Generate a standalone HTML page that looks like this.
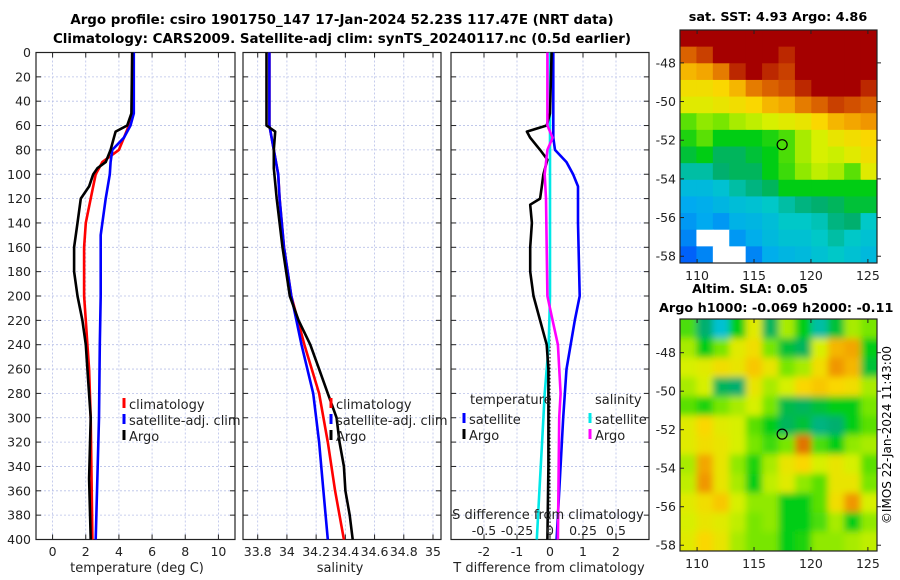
<!DOCTYPE html>
<html><head><meta charset="utf-8"><style>
html,body{margin:0;padding:0;background:#fff;}
svg{display:block;font-family:"DejaVu Sans","Liberation Sans",sans-serif;}
</style></head><body>
<svg id="fig" width="900" height="580" viewBox="0 0 900 580">
<text x="342" y="24" font-size="13.4" font-weight="bold" text-anchor="middle">Argo profile: csiro 1901750_147 17-Jan-2024 52.23S 117.47E (NRT data)</text>
<text x="342" y="43" font-size="13.4" font-weight="bold" text-anchor="middle">Climatology: CARS2009. Satellite-adj clim: synTS_20240117.nc (0.5d earlier)</text>
<text x="778" y="21" font-size="12.8" font-weight="bold" text-anchor="middle">sat. SST: 4.93 Argo: 4.86</text>
<text x="750" y="293" font-size="12.8" font-weight="bold" text-anchor="middle">Altim. SLA: 0.05</text>
<text x="659" y="312" font-size="12.8" font-weight="bold">Argo h1000: -0.069 h2000: -0.11</text>
<text transform="translate(891,435) rotate(-90)" font-size="12" text-anchor="middle">©IMOS 22-Jan-2024 11:43:00</text>
</svg>
<script>
// ---------- data ----------
const depthTicks=[0,20,40,60,80,100,120,140,160,180,200,220,240,260,280,300,320,340,360,380,400];
const tempTicks=[0,2,4,6,8,10];
const salTicks=[33.8,34,34.2,34.4,34.6,34.8,35];
const salTickLabels=["33.8","34","34.2","34.4","34.6","34.8","35"];
const dTTicks=[-2,-1,0,1,2];
const dSTicks=[-0.5,-0.25,0,0.25,0.5];
const dSTickLabels=["-0.5","-0.25","0","0.25","0.5"];

const tClimDepth=[0,50,60,70,80,90,100,110,120,140,160,180,200,220,240,260,300,400];
const tClimVal=[4.8,4.8,4.6,4.3,4.0,3.0,2.6,2.45,2.3,2.0,1.9,1.9,1.9,2.0,2.1,2.2,2.3,2.4];
const tSatDepth=[0,50,60,70,80,90,100,120,150,200,240,300,400];
const tSatVal=[4.9,4.9,4.7,4.3,3.6,3.5,3.45,3.2,2.9,2.9,2.85,2.8,2.6];
const tArgoDepth=[0,50,60,65,70,80,90,95,100,110,120,140,160,180,200,220,240,260,300,350,400];
const tArgoVal=[4.8,4.75,4.5,3.8,3.7,3.5,3.2,2.7,2.45,2.2,1.7,1.5,1.3,1.3,1.5,1.8,2.0,2.1,2.3,2.2,2.3];

const sClimDepth=[0,60,80,100,120,160,200,240,280,320,360,400];
const sClimVal=[33.88,33.88,33.91,33.94,33.95,33.98,34.03,34.12,34.22,34.28,34.33,34.39];
const sSatDepth=[0,60,80,100,120,160,200,240,280,320,360,400];
const sSatVal=[33.88,33.88,33.91,33.94,33.95,33.98,34.03,34.10,34.18,34.22,34.25,34.28];
const sArgoDepth=[0,60,65,80,95,120,160,200,220,240,260,280,300,320,340,360,380,400];
const sArgoVal=[33.86,33.86,33.92,33.91,33.91,33.93,33.97,34.02,34.08,34.16,34.22,34.28,34.34,34.36,34.39,34.40,34.43,34.45];

const dTSatDepth=[0,70,80,90,100,110,140,200,220,260,300,400];
const dTSatVal=[0.1,0.1,0.15,0.5,0.7,0.85,0.85,0.9,0.75,0.5,0.4,0.2];
const dTArgoDepth=[0,50,60,65,70,80,88,100,110,120,125,140,160,180,200,220,240,260,300,340,400];
const dTArgoVal=[0.05,0.0,-0.1,-0.7,-0.6,-0.3,-0.08,-0.2,-0.25,-0.3,-0.6,-0.55,-0.6,-0.6,-0.5,-0.3,-0.1,-0.05,-0.05,-0.05,-0.08];
const dSSatDepth=[0,200,240,280,320,360,400];
const dSSatVal=[0,0,-0.01,-0.04,-0.06,-0.08,-0.1];
const dSArgoDepth=[0,60,70,80,100,120,200,220,240,280,300,400];
const dSArgoVal=[-0.02,-0.02,0.02,-0.02,-0.04,-0.03,-0.02,0.02,0.06,0.08,0.07,0.06];

// map grids (colour index 0..1, -1 = missing)
const sstGrid=[
[1,1,1,1,1,1,1,1,1,1,1,1],
[0.88,0.92,1,1,1,1,0.95,1,1,1,1,1],
[0.78,0.8,0.85,0.95,1,0.95,0.92,1,1,1,1,1],
[0.72,0.72,0.74,0.78,0.85,0.88,0.9,0.95,1,1,1,0.95],
[0.68,0.68,0.7,0.72,0.74,0.78,0.8,0.85,0.88,0.92,0.9,0.88],
[0.56,0.6,0.58,0.62,0.64,0.66,0.68,0.7,0.74,0.78,0.8,0.82],
[0.52,0.56,0.5,0.5,0.5,0.52,0.55,0.62,0.66,0.7,0.72,0.74],
[0.48,0.5,0.46,0.46,0.48,0.5,0.55,0.62,0.66,0.65,0.68,0.72],
[0.42,0.42,0.45,0.46,0.46,0.5,0.54,0.6,0.64,0.62,0.56,0.68],
[0.36,0.36,0.38,0.42,0.44,0.46,0.5,0.5,0.5,0.5,0.5,0.5],
[0.32,0.33,0.35,0.37,0.38,0.4,0.42,0.44,0.45,0.46,0.48,0.48],
[0.3,0.32,0.3,0.34,0.35,0.37,0.4,0.4,0.41,0.44,0.45,0.4],
[0.28,-1,-1,0.3,0.33,0.36,0.38,0.38,0.4,0.42,0.4,0.38],
[0.24,0.28,-1,-1,0.28,0.33,0.35,0.36,0.38,0.4,0.38,0.36]
];
const slaGrid=[
[0.55,0.45,0.38,0.5,0.68,0.46,0.62,0.5,0.42,0.48,0.62,0.58],
[0.62,0.5,0.58,0.68,0.72,0.58,0.48,0.46,0.66,0.78,0.8,0.5],
[0.66,0.68,0.72,0.7,0.76,0.7,0.58,0.62,0.72,0.82,0.78,0.48],
[0.62,0.66,0.46,0.45,0.7,0.62,0.66,0.74,0.76,0.74,0.72,0.62],
[0.56,0.52,0.58,0.62,0.66,0.58,0.47,0.46,0.48,0.5,0.5,0.58],
[0.68,0.74,0.68,0.66,0.56,0.5,0.46,0.48,0.44,0.45,0.5,0.56],
[0.68,0.72,0.7,0.66,0.58,0.54,0.58,0.86,0.55,0.5,0.6,0.62],
[0.62,0.8,0.7,0.6,0.52,0.62,0.7,0.74,0.66,0.7,0.66,0.56],
[0.64,0.82,0.7,0.62,0.5,0.64,0.68,0.6,0.56,0.7,0.7,0.58],
[0.68,0.72,0.76,0.66,0.6,0.6,0.5,0.5,0.56,0.72,0.82,0.66],
[0.66,0.7,0.68,0.64,0.58,0.6,0.5,0.5,0.55,0.62,0.5,0.6],
[0.68,0.74,0.7,0.62,0.58,0.58,0.5,0.52,0.6,0.6,0.62,0.64]
];
const argoLon=117.47, argoLat=-52.23;
const mapLonTicks=[110,115,120,125];
const mapLatTicks=[-48,-50,-52,-54,-56,-58];

// ---------- helpers ----------
const NS="http://www.w3.org/2000/svg";
const svg=document.getElementById('fig');
function mk(tag,attrs,parent){const e=document.createElementNS(NS,tag);for(const k in attrs)e.setAttribute(k,attrs[k]);(parent||svg).appendChild(e);return e;}
const Y0=52.5,Y1=539.5;
const yD=d=>Y0+(Y1-Y0)*d/400;
function lin(d0,d1,r0,r1){return v=>r0+(r1-r0)*(v-d0)/(d1-d0);}

function panel(name,x0,x1,xs,xticks,xlabels,showY){
  const g=mk('g',{});
  
  
  xticks.forEach(t=>{const l=mk('line',{x1:xs(t),x2:xs(t),y1:Y0,y2:Y1,stroke:'#b8c0e8','stroke-width':0.8,'stroke-dasharray':'2,2'},g);
    });
  depthTicks.forEach(d=>{const l=mk('line',{x1:x0,x2:x1,y1:yD(d),y2:yD(d),stroke:'#b8c0e8','stroke-width':0.8,'stroke-dasharray':'2,2'},g);
    
    mk('line',{x1:x0,x2:x0+5,y1:yD(d),y2:yD(d),stroke:'#222'},g);mk('line',{x1:x1-5,x2:x1,y1:yD(d),y2:yD(d),stroke:'#222'},g);
    if(showY){const t=mk('text',{x:x0-5,y:yD(d)+4.5,'font-size':12.5,'text-anchor':'end',fill:'#222'},g);t.textContent=d;
      }
  });
  xticks.forEach((t,i)=>{mk('line',{x1:xs(t),x2:xs(t),y1:Y1,y2:Y1-5,stroke:'#222'},g);mk('line',{x1:xs(t),x2:xs(t),y1:Y0,y2:Y0+5,stroke:'#222'},g);
    if(xlabels){const tx=mk('text',{x:xs(t),y:556,'font-size':12.5,'text-anchor':'middle',fill:'#222'},g);tx.textContent=xlabels[i];
      }});
  const r=mk('rect',{x:x0,y:Y0,width:x1-x0,height:Y1-Y0,fill:'none',stroke:'#222','stroke-width':1.2},g);
  
  return g;
}
function series(g,name,xs,dep,val,color,w){
  const pts=dep.map((d,i)=>xs(val[i]).toFixed(1)+','+yD(d).toFixed(1)).join(' ');
  const p=mk('polyline',{points:pts,fill:'none',stroke:color,'stroke-width':w||2.6,'stroke-linejoin':'round'},g);
  
}
function legend(g,x,y,items){
  items.forEach((it,i)=>{
    const yy=y+i*16;
    const m=mk('line',{x1:x,x2:x,y1:yy-9,y2:yy+1,stroke:it[1],'stroke-width':3},g);
    
    if(it[0]){const t=mk('text',{x:x+5,y:yy+2,'font-size':13,fill:'#222'},g);t.textContent=it[0];
      }
  });
}
function axTitle(x,y,txt,name){const t=mk('text',{x:x,y:y,'font-size':13,'text-anchor':'middle',fill:'#222'});t.textContent=txt;
  }

// ---------- panel 1: temperature ----------
const xT=lin(-1,11,36,235);
const g1=panel('temperature-panel',36,235,xT,tempTicks,tempTicks.map(String),true);
series(g1,'temp-climatology-line',xT,tClimDepth,tClimVal,'#ff0000');
series(g1,'temp-satellite-line',xT,tSatDepth,tSatVal,'#0000ff');
series(g1,'temp-argo-line',xT,tArgoDepth,tArgoVal,'#000000');
legend(g1,124,407,[['climatology','#ff0000'],['satellite-adj. clim','#0000ff'],['Argo','#000']]);
axTitle(137,572,'temperature (deg C)','temperature-axis-title');

// ---------- panel 2: salinity ----------
const xS=lin(33.8,35,257.7,433);
const g2=panel('salinity-panel',243,441,xS,salTicks,salTickLabels,false);
series(g2,'sal-climatology-line',xS,sClimDepth,sClimVal,'#ff0000');
series(g2,'sal-satellite-line',xS,sSatDepth,sSatVal,'#0000ff');
series(g2,'sal-argo-line',xS,sArgoDepth,sArgoVal,'#000000');
legend(g2,331,407,[['climatology','#ff0000'],['satellite-adj. clim','#0000ff'],['Argo','#000']]);
axTitle(340,572,'salinity','salinity-axis-title');

// ---------- panel 3: differences ----------
const xDT=lin(-3,3,451,649);
const xDS=v=>xDT(v*4);
const g3=panel('difference-panel',451,649,xDT,dTTicks,dTTicks.map(String),false);
const zl=mk('line',{x1:xDT(0),x2:xDT(0),y1:Y0,y2:Y1,stroke:'#000','stroke-width':1,'stroke-dasharray':'1.5,2'},g3);

series(g3,'dT-satellite-line',xDT,dTSatDepth,dTSatVal,'#0000ff');
series(g3,'dS-satellite-line',xDS,dSSatDepth,dSSatVal,'#00e8e8');
series(g3,'dT-argo-line',xDT,dTArgoDepth,dTArgoVal,'#000000');
series(g3,'dS-argo-line',xDS,dSArgoDepth,dSArgoVal,'#ff00ff');
{const t=mk('text',{x:470,y:404,'font-size':13,fill:'#222'},g3);t.textContent='temperature';
 const t2=mk('text',{x:595,y:404,'font-size':13,fill:'#222'},g3);t2.textContent='salinity';}
legend(g3,464,422,[['satellite','#0000ff'],['Argo','#000']]);
legend(g3,590,422,[['satellite','#00e8e8'],['Argo','#ff00ff']]);
{const t=mk('text',{x:548,y:519,'font-size':13,'text-anchor':'middle',fill:'#222'},g3);t.textContent='S difference from climatology';
 }
dSTicks.forEach((s,i)=>{const t=mk('text',{x:xDS(s),y:535,'font-size':12.5,'text-anchor':'middle',fill:'#222'},g3);t.textContent=dSTickLabels[i];
  });
axTitle(549,572,'T difference from climatology','t-diff-axis-title');

// ---------- maps ----------
function cmap(v){
  if(v<0)return '#ffffff';
  const stops=[[0,[0,0,140]],[0.2,[0,60,255]],[0.32,[0,170,240]],[0.4,[0,200,200]],[0.45,[0,175,110]],[0.5,[0,205,20]],[0.58,[120,230,0]],[0.66,[215,240,0]],[0.74,[250,215,0]],[0.82,[240,150,0]],[0.9,[210,80,0]],[1,[165,0,0]]];
  for(let i=1;i<stops.length;i++){if(v<=stops[i][0]){const a=stops[i-1],b=stops[i],f=(v-a[0])/(b[0]-a[0]);
    return 'rgb('+a[1].map((c,k)=>Math.round(c+(b[1][k]-c)*f)).join(',')+')';}}
  return 'rgb(165,0,0)';
}
function drawMap(name,grid,x0,x1,y0,y1,latTop,latBot,blur){
  const g=mk('g',{});
  
  const lonL=108.5,lonR=125.8;
  const mx=lin(lonL,lonR,x0,x1), my=lin(latTop,latBot,y0,y1);
  const rows=grid.length, cols=grid[0].length;
  const cid='clip'+name;
  const cp=mk('clipPath',{id:cid},g);mk('rect',{x:x0,y:y0,width:x1-x0,height:y1-y0},cp);
  const cg=mk('g',{'clip-path':'url(#'+cid+')'},g);
  let inner=cg;
  if(blur){const f=mk('filter',{id:'bl'+name,x:'-10%',y:'-10%',width:'120%',height:'120%'},g);mk('feGaussianBlur',{stdDeviation:3.5},f);inner=mk('g',{filter:'url(#bl'+name+')'},cg);}
  const cw=(x1-x0)/cols, ch=(y1-y0)/rows;
  grid.forEach((row,r)=>row.forEach((v,c)=>{
    const ext=blur?8:0;
    const cell=mk('rect',{x:x0+c*cw-(c==0?ext:0),y:y0+r*ch-(r==0?ext:0),width:cw+0.6+(c==0||c==cols-1?ext:0),height:ch+0.6+(r==0||r==rows-1?ext:0),fill:cmap(v)},inner);
    
  }));
  const fr=mk('rect',{x:x0,y:y0,width:x1-x0,height:y1-y0,fill:'none',stroke:'#222','stroke-width':1.2},g);
  
  mapLonTicks.forEach(l=>{mk('line',{x1:mx(l),x2:mx(l),y1:y1,y2:y1-4,stroke:'#222'},g);mk('line',{x1:mx(l),x2:mx(l),y1:y0,y2:y0+4,stroke:'#222'},g);
    const t=mk('text',{x:mx(l),y:y1+17,'font-size':12.5,'text-anchor':'middle',fill:'#222'},g);t.textContent=l;
    });
  mapLatTicks.forEach(l=>{mk('line',{x1:x0,x2:x0+4,y1:my(l),y2:my(l),stroke:'#222'},g);mk('line',{x1:x1,x2:x1+4,y1:my(l),y2:my(l),stroke:'#222'},g);
    const t=mk('text',{x:x0-4,y:my(l)+4.5,'font-size':12.5,'text-anchor':'end',fill:'#222'},g);t.textContent=l;
    });
  const c=mk('circle',{cx:mx(argoLon),cy:my(argoLat),r:5,fill:'none',stroke:'#000','stroke-width':1.2},g);
  
}
drawMap('sst-map',sstGrid,680,877,30,263,-46.3,-58.35,false);
drawMap('sla-map',slaGrid,680,877,319,551,-46.25,-58.3,true);
</script>
</body></html>
